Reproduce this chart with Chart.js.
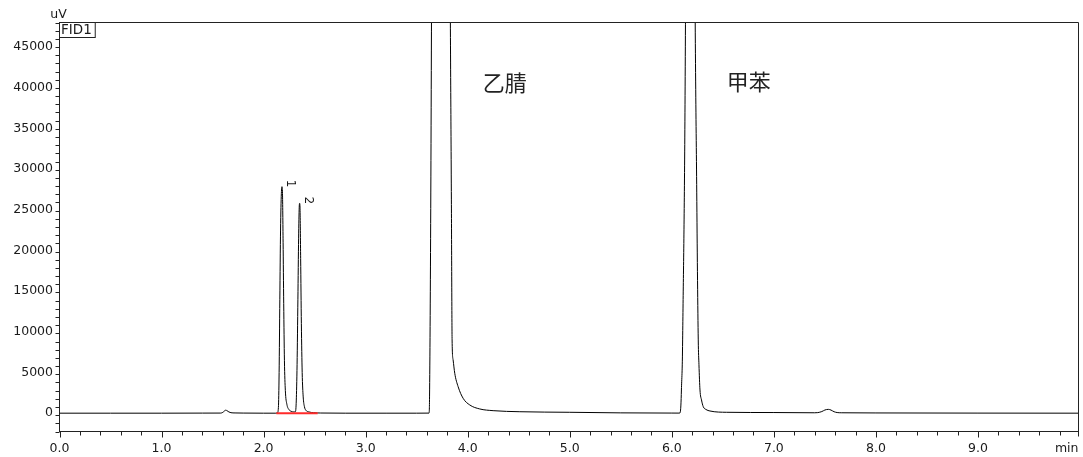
<!DOCTYPE html>
<html>
<head>
<meta charset="utf-8">
<script src="https://cdn.jsdelivr.net/npm/chart.js@4.4.1/dist/chart.umd.min.js"></script>
<style>
  html, body { margin: 0; padding: 0; background: #fff; }
  #wrap { width: 1083px; height: 457px; }
</style>
</head>
<body>
<div id="wrap"><canvas id="chrom" width="1083" height="457"></canvas></div>
<script>
// FID1 trace: retention time (min) and detector signal (uV)
const times = [
  0.00, 0.50, 1.00, 1.40, 1.58, 1.60, 1.615, 1.628, 1.64, 1.66, 1.68, 1.72, 1.80, 2.00, 2.12,
  2.135, 2.145, 2.152, 2.159, 2.166, 2.174, 2.180, 2.185, 2.191, 2.197, 2.204, 2.213, 2.228, 2.248, 2.27, 2.295,
  2.312, 2.32, 2.328, 2.336, 2.343, 2.349, 2.353, 2.357, 2.363, 2.37, 2.378, 2.388, 2.40, 2.415, 2.445, 2.49, 2.56,
  2.80, 3.20, 3.50,
  3.621, 3.626, 3.648, 3.73, 3.826, 3.840, 3.847, 3.857, 3.873, 3.906, 3.955, 4.020, 4.118, 4.249, 4.511,
  5.00, 5.50, 6.00, 6.07,
  6.080, 6.089, 6.094, 6.106, 6.14, 6.18, 6.222, 6.245, 6.259, 6.266, 6.276, 6.291, 6.308, 6.335, 6.374, 6.538,
  7.00, 7.40,
  7.43, 7.47, 7.50, 7.534, 7.56, 7.59, 7.62, 7.66, 8.00, 9.00, 9.985
];
const signal = [
  0, 0, 0, 10, 15, 100, 260, 370, 320, 150, 60, 30, 15, 0, 0,
  30, 700, 5000, 14000, 22500, 27000, 27830, 27000, 21000, 13500, 6500, 2800, 1100, 450, 230, 160,
  190, 1500, 6000, 14000, 21500, 25300, 25790, 25100, 19000, 11000, 5000, 2000, 800, 350, 150, 60, 20,
  0, 0, 0,
  10, 2000, 60000, 500000, 60000, 26200, 9000, 6540, 4900, 3260, 1830, 1010, 520, 310, 180,
  110, 40, 15, 10,
  30, 1000, 2850, 9000, 68000, 300000, 68000, 26000, 9000, 5950, 2850, 1620, 800, 450, 270, 110,
  80, 50,
  70, 200, 390, 470, 380, 180, 80, 50, 30, 10, 0
];

// integration baseline under peaks 1 and 2
const baselineTimes = [2.125, 2.53];
const baselineValues = [0, 0];

// numbered peaks
const peakNumbers = ['1', '2'];
const peakTimes = [2.180, 2.353];
const peakHeights = [27830, 25790];

// compound names written beside the solvent peaks
const compoundNames = ['乙腈', '甲苯'];
const compoundTimes = [4.148, 6.538];
const compoundLevels = [40570, 40690];

// axis ranges, tick steps and labelled signal values
const xRange = [0, 9.985];
const yRange = [-2250, 48000];
const xStep = 0.2, yStep = 1000;
const yTickLabels = [0, 5000, 10000, 15000, 20000, 25000, 30000, 35000, 40000, 45000];

const isWhole = v => Math.abs(v - Math.round(v)) < 1e-6;
const trace = times.map((t, i) => ({ x: t, y: signal[i] }));
const baseline = baselineTimes.map((t, i) => ({ x: t, y: baselineValues[i] }));

const FONT = '"DejaVu Sans", "Liberation Sans", sans-serif';
const TICK_FONT_SIZE = 12.5;

const decor = {
  id: 'decor',
  afterDraw(chart) {
    const { ctx, chartArea: a, scales: { x, y } } = chart;
    ctx.save();
    ctx.strokeStyle = '#222';
    ctx.lineWidth = 1;
    ctx.beginPath();
    // frame: top and right edges
    ctx.moveTo(a.left, a.top);
    ctx.lineTo(a.right, a.top);
    ctx.lineTo(a.right, a.bottom + 5);
    // x ticks, long at whole minutes
    x.ticks.forEach(t => {
      const px = Math.round(x.getPixelForValue(t.value)) + 0.5;
      ctx.moveTo(px, a.bottom);
      ctx.lineTo(px, a.bottom + (isWhole(t.value) ? 6 : 4));
    });
    // y ticks, long where labelled
    y.ticks.forEach(t => {
      const py = Math.round(y.getPixelForValue(t.value)) + 0.5;
      ctx.moveTo(a.left, py);
      ctx.lineTo(a.left - (yTickLabels.includes(t.value) ? 6 : 4), py);
    });
    ctx.stroke();

    ctx.fillStyle = '#1a1a1a';
    ctx.font = TICK_FONT_SIZE + 'px ' + FONT;
    ctx.textBaseline = 'middle';
    // signal tick labels
    ctx.textAlign = 'right';
    yTickLabels.forEach(v => {
      ctx.fillText(String(v), a.left - 6.5, y.getPixelForValue(v));
    });
    // unit labels
    ctx.textAlign = 'center';
    ctx.fillText('uV', a.left - 1, 15);
    ctx.textAlign = 'right';
    ctx.fillText('min', a.right, a.bottom + 17);

    // signal name box
    ctx.font = '13.5px ' + FONT;
    ctx.textAlign = 'left';
    const w = ctx.measureText('FID1').width;
    ctx.fillStyle = '#fff';
    ctx.fillRect(a.left, a.top, w + 5, 15);
    ctx.strokeRect(a.left, a.top, w + 5, 15);
    ctx.fillStyle = '#1a1a1a';
    ctx.fillText('FID1', a.left + 1.5, a.top + 8);

    // peak numbers, turned on their side
    ctx.font = '12px ' + FONT;
    peakNumbers.forEach((n, i) => {
      const px = x.getPixelForValue(peakTimes[i]) + 8;
      const py = y.getPixelForValue(peakHeights[i]) - 3;
      ctx.save();
      ctx.translate(px, py);
      ctx.rotate(Math.PI / 2);
      ctx.textAlign = 'center';
      ctx.textBaseline = 'middle';
      ctx.fillText(n, 0, 0);
      ctx.restore();
    });

    // compound names
    ctx.font = '22px "Noto Sans CJK SC", sans-serif';
    ctx.fillStyle = '#222';
    ctx.textAlign = 'left';
    ctx.textBaseline = 'middle';
    compoundNames.forEach((name, i) => {
      ctx.fillText(name, x.getPixelForValue(compoundTimes[i]), y.getPixelForValue(compoundLevels[i]));
    });
    ctx.restore();
  }
};

new Chart(document.getElementById('chrom'), {
  type: 'line',
  data: {
    datasets: [
      { data: baseline, borderColor: '#ff2a2a', borderWidth: 2, pointRadius: 0, tension: 0, fill: false, order: 0 },
      { data: trace, borderColor: '#000', borderWidth: 1, pointRadius: 0, cubicInterpolationMode: 'monotone', fill: false, order: 1 }
    ]
  },
  options: {
    responsive: false,
    devicePixelRatio: 1,
    animation: false,
    events: [],
    layout: { padding: { top: 22.5, right: 4.5, left: 0, bottom: 0 } },
    plugins: { legend: { display: false }, tooltip: { enabled: false } },
    scales: {
      x: {
        type: 'linear',
        min: xRange[0],
        max: xRange[1],
        afterFit: s => { s.height = 25.5; },
        grid: { display: true, drawOnChartArea: false, drawTicks: true, tickLength: 6, color: 'rgba(0,0,0,0)' },
        border: { display: true, color: '#222', width: 1 },
        ticks: {
          stepSize: xStep,
          includeBounds: false,
          autoSkip: false,
          maxRotation: 0,
          padding: 4,
          color: '#1a1a1a',
          font: { family: FONT, size: TICK_FONT_SIZE },
          callback: v => (isWhole(v) ? v.toFixed(1) : '')
        }
      },
      y: {
        type: 'linear',
        min: yRange[0],
        max: yRange[1],
        afterFit: s => { s.width = 59.5; },
        grid: { display: false },
        border: { display: true, color: '#222', width: 1 },
        ticks: { stepSize: yStep, includeBounds: false, autoSkip: false, display: false }
      }
    }
  },
  plugins: [decor]
});
</script>
</body>
</html>
